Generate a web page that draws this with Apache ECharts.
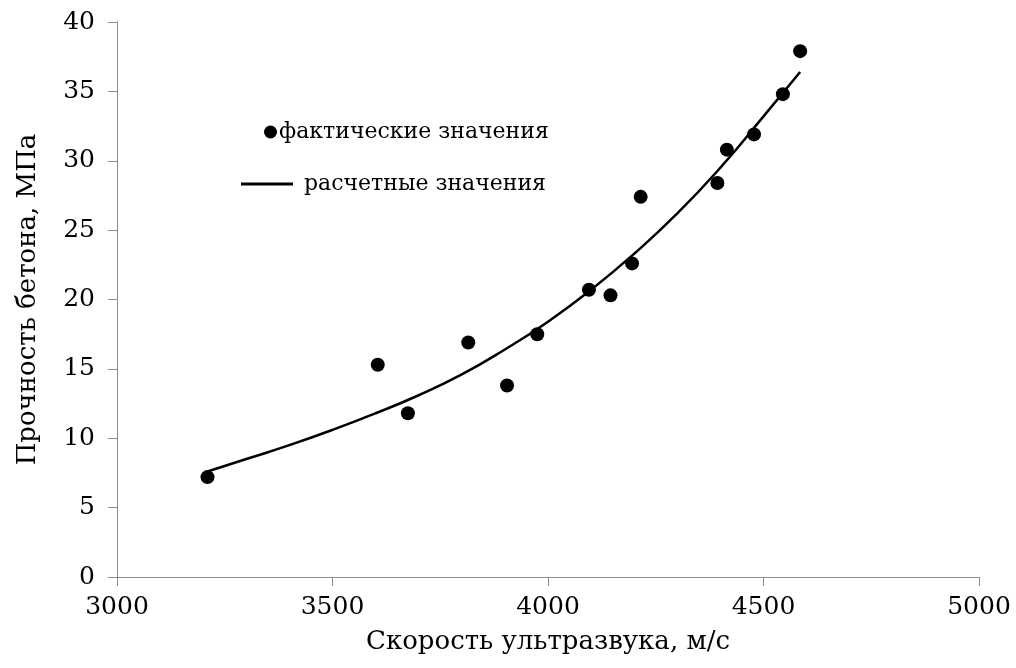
<!DOCTYPE html>
<html>
<head>
<meta charset="utf-8">
<script src="https://cdn.jsdelivr.net/npm/echarts@6/dist/echarts.min.js"></script>
<style>
  html, body { margin: 0; padding: 0; background: #fff; }
  #chart { width: 1016px; height: 668px; }
</style>
</head>
<body>
<div id="chart"></div>
<script>
// Measured ultrasonic pulse velocity (m/s) and concrete strength (MPa)
const measuredSpeed = [3210, 3605, 3675, 3815, 3905, 3975, 4095, 4145, 4195, 4215, 4393, 4415, 4478, 4545, 4585];
const measuredStrength = [7.2, 15.3, 11.8, 16.9, 13.8, 17.5, 20.7, 20.3, 22.6, 27.4, 28.4, 30.8, 31.9, 34.8, 37.9];

// Calculated (fitted) strength curve
const fitSpeed = [3210, 3300, 3400, 3500, 3600, 3700, 3800, 3900, 4000, 4100, 4200, 4300, 4400, 4500, 4585];
const fitStrength = [7.6, 8.5, 9.5, 10.6, 11.8, 13.1, 14.6, 16.4, 18.4, 20.7, 23.3, 26.2, 29.5, 33.2, 36.4];

const xTicks = [3000, 3500, 4000, 4500, 5000];
const yTicks = [0, 5, 10, 15, 20, 25, 30, 35, 40];

const seriesNames = ['фактические значения', 'расчетные значения'];
const xTitle = 'Скорость ультразвука, м/с';
const yTitle = 'Прочность бетона, МПа';

const axisFont = 'DejaVu Serif';
const legendFont = 'DejaVu Serif';

const chart = echarts.init(document.getElementById('chart'), null, { renderer: 'canvas' });

const axisLineStyle = { color: '#8c8c8c', width: 1 };

chart.setOption({
  animation: false,
  backgroundColor: '#ffffff',
  grid: { left: 117, right: 37, top: 22, bottom: 91, containLabel: false },
  legend: [
    {
      data: [{ name: seriesNames[0], icon: 'circle' }],
      left: 259, top: 116,
      itemWidth: 13, itemHeight: 13, itemGap: 0,
      textStyle: { fontFamily: legendFont, fontSize: 22, color: '#000', padding: [0, 0, 0, -3] },
      selectedMode: false
    },
    {
      data: [{ name: seriesNames[1], icon: 'rect', itemStyle: { color: '#000' } }],
      left: 236, top: 168,
      itemWidth: 52, itemHeight: 3, itemGap: 0,
      textStyle: { fontFamily: legendFont, fontSize: 22, color: '#000', padding: [0, 0, 0, 6] },
      selectedMode: false
    }
  ],
  xAxis: {
    type: 'value',
    min: xTicks[0], max: xTicks[xTicks.length - 1], interval: 500,
    name: xTitle, nameLocation: 'middle', nameGap: 52,
    nameTextStyle: { fontFamily: axisFont, fontSize: 26, color: '#000' },
    axisLine: { show: true, lineStyle: axisLineStyle },
    axisTick: { show: true, inside: false, length: 9, lineStyle: axisLineStyle },
    axisLabel: { fontFamily: axisFont, fontSize: 25, color: '#000', margin: 18, formatter: v => String(v) },
    splitLine: { show: false }
  },
  yAxis: {
    type: 'value',
    min: yTicks[0], max: yTicks[yTicks.length - 1], interval: 5,
    name: yTitle, nameLocation: 'middle', nameGap: 76, nameRotate: 90,
    nameTextStyle: { fontFamily: axisFont, fontSize: 26, color: '#000' },
    axisLine: { show: true, lineStyle: axisLineStyle },
    axisTick: { show: true, inside: false, length: 9, lineStyle: axisLineStyle },
    axisLabel: { fontFamily: axisFont, fontSize: 25, color: '#000', margin: 22, formatter: v => String(v) },
    splitLine: { show: false }
  },
  series: [
    {
      name: seriesNames[0],
      type: 'scatter',
      symbol: 'circle',
      symbolSize: 14,
      itemStyle: { color: '#000', opacity: 1 },
      data: measuredSpeed.map((v, i) => [v, measuredStrength[i]]),
      z: 3
    },
    {
      name: seriesNames[1],
      type: 'line',
      smooth: true,
      showSymbol: false,
      symbol: 'none',
      lineStyle: { color: '#000', width: 2.5 },
      itemStyle: { color: '#000' },
      data: fitSpeed.map((v, i) => [v, fitStrength[i]]),
      z: 2
    }
  ]
});
</script>
</body>
</html>
